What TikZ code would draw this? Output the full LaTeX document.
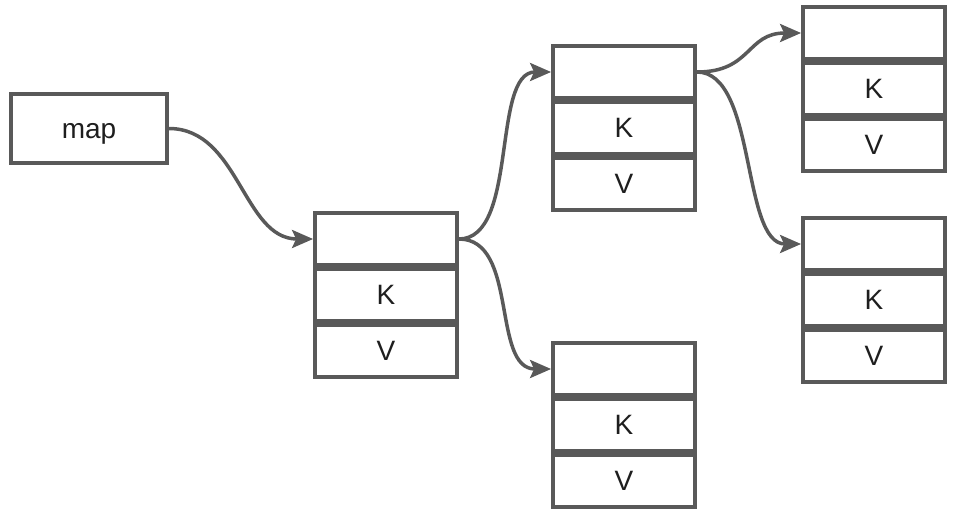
\documentclass[tikz,border=0pt]{standalone}
\usepackage{fontspec}
\setmainfont{Liberation Sans}
\usetikzlibrary{positioning,arrows.meta}
\definecolor{CellGray}{RGB}{89,89,89}
\definecolor{TextGray}{RGB}{30,30,30}

\begin{document}
\begin{tikzpicture}[x=1pt,y=-1pt,font=\fontsize{28}{32}\selectfont,text=TextGray,
  cell/.style={draw=CellGray,line width=3.8pt,fill=white,minimum width=142pt,minimum height=52pt},
  link/.style={draw=CellGray,line width=3.5pt,-{Stealth[length=21pt,width=18pt,inset=4pt]}}]
\useasboundingbox (0,0) rectangle (962,514);
\node[cell,minimum width=156pt,minimum height=69pt,text height=20pt,text depth=0pt] (map) at (89,128.5) {map};
% each entry: empty head cell, then K and V
\foreach \n/\x/\y in {root/386/239, up/624/72, low/624/369, upup/874/33, updown/874/244}{
  \node[cell] (\n) at (\x,\y) {};
  \node[cell,below=0pt of \n] (\n-k) {K};
  \node[cell,below=0pt of \n-k] (\n-v) {V};
}
\draw[link] (map.east) .. controls +(70,0) and +(-70,0) .. (root.west);
\draw[link] (root.east) .. controls +(60,0) and +(-60,0) .. (up.west);
\draw[link] (root.east) .. controls +(60,0) and +(-60,0) .. (low.west);
\draw[link] (up.east) .. controls +(55,0) and +(-55,0) .. (upup.west);
\draw[link] (up.east) .. controls +(60,0) and +(-60,0) .. (updown.west);
\end{tikzpicture}
\end{document}
